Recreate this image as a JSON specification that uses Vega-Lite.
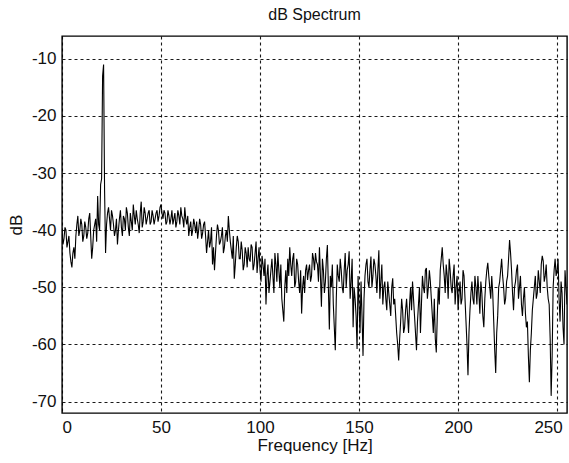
{
  "$schema": "https://vega.github.io/schema/vega-lite/v6.json",
  "width": 505,
  "height": 377,
  "autosize": {"type": "none"},
  "padding": {"left": 62, "top": 36, "right": 2, "bottom": 50},
  "background": "white",
  "title": {"text": "dB Spectrum", "font": "Liberation Sans", "fontSize": 16, "fontWeight": "normal", "color": "#111", "offset": 13},
  "config": {
    "view": {"stroke": "black", "strokeWidth": 1.4},
    "axis": {
      "labelFont": "Liberation Sans", "labelFontSize": 17, "labelColor": "#111",
      "titleFont": "Liberation Sans", "titleFontSize": 17, "titleFontWeight": "normal", "titleColor": "#111",
      "domain": false, "ticks": false,
      "grid": true, "gridColor": "black", "gridDash": [3, 3], "gridWidth": 1.1, "gridOpacity": 0.9,
      "labelExpr": "'' + datum.value"
    }
  },
  "data": {"values": [
    {"f":0,"db":-40},{"f":0.5,"db":-42.5},{"f":1,"db":-41.5},{"f":1.5,"db":-39.5},{"f":2,"db":-40},{"f":2.5,"db":-43},{"f":3,"db":-42},{"f":3.5,"db":-41},{"f":4,"db":-44},{"f":4.5,"db":-45.5},
    {"f":5,"db":-46.5},{"f":5.5,"db":-44},{"f":6,"db":-43},{"f":6.5,"db":-45},{"f":7,"db":-41},{"f":7.5,"db":-39},{"f":8,"db":-37.5},{"f":8.5,"db":-41},{"f":9,"db":-40},{"f":9.5,"db":-38},
    {"f":10,"db":-39},{"f":10.5,"db":-42},{"f":11,"db":-41},{"f":11.5,"db":-38.5},{"f":12,"db":-39.5},{"f":12.5,"db":-41.5},{"f":13,"db":-40.5},{"f":13.5,"db":-38},{"f":14,"db":-37},{"f":14.5,"db":-41},
    {"f":15,"db":-45},{"f":15.5,"db":-43},{"f":16,"db":-40},{"f":16.5,"db":-39},{"f":17,"db":-38},{"f":17.5,"db":-42},{"f":18,"db":-34},{"f":18.5,"db":-39},{"f":19,"db":-40},{"f":19.5,"db":-32},
    {"f":20,"db":-31},{"f":20.5,"db":-13},{"f":21,"db":-11},{"f":21.5,"db":-33},{"f":22,"db":-44},{"f":22.5,"db":-39},{"f":23,"db":-37},{"f":23.5,"db":-36},{"f":24,"db":-38},{"f":24.5,"db":-40},
    {"f":25,"db":-36.5},{"f":25.5,"db":-37.5},{"f":26,"db":-39},{"f":26.5,"db":-41},{"f":27,"db":-40},{"f":27.5,"db":-38},{"f":28,"db":-42.5},{"f":28.5,"db":-40},{"f":29,"db":-38},{"f":29.5,"db":-36.5},
    {"f":30,"db":-39.5},{"f":30.5,"db":-41},{"f":31,"db":-37.5},{"f":31.5,"db":-38},{"f":32,"db":-40},{"f":32.5,"db":-36},{"f":33,"db":-37},{"f":33.5,"db":-39.5},{"f":34,"db":-41},{"f":34.5,"db":-37},
    {"f":35,"db":-38.5},{"f":35.5,"db":-40},{"f":36,"db":-35.5},{"f":36.5,"db":-37.5},{"f":37,"db":-39},{"f":37.5,"db":-36.5},{"f":38,"db":-38},{"f":38.5,"db":-39},{"f":39,"db":-40.5},{"f":39.5,"db":-37},
    {"f":40,"db":-35},{"f":40.5,"db":-39.5},{"f":41,"db":-38.5},{"f":41.5,"db":-36},{"f":42,"db":-37},{"f":42.5,"db":-39},{"f":43,"db":-38},{"f":43.5,"db":-37},{"f":44,"db":-36.5},{"f":44.5,"db":-39},
    {"f":45,"db":-38.5},{"f":45.5,"db":-36.5},{"f":46,"db":-37.5},{"f":46.5,"db":-39},{"f":47,"db":-38},{"f":47.5,"db":-37},{"f":48,"db":-36.5},{"f":48.5,"db":-38.5},{"f":49,"db":-37.5},{"f":49.5,"db":-36},
    {"f":50,"db":-35.5},{"f":50.5,"db":-37},{"f":51,"db":-38},{"f":51.5,"db":-36.5},{"f":52,"db":-37},{"f":52.5,"db":-39},{"f":53,"db":-38.5},{"f":53.5,"db":-36.5},{"f":54,"db":-37.5},{"f":54.5,"db":-39},
    {"f":55,"db":-38},{"f":55.5,"db":-36.5},{"f":56,"db":-39},{"f":56.5,"db":-38},{"f":57,"db":-37},{"f":57.5,"db":-39.5},{"f":58,"db":-38.5},{"f":58.5,"db":-36.5},{"f":59,"db":-37.5},{"f":59.5,"db":-39},
    {"f":60,"db":-36},{"f":60.5,"db":-37.5},{"f":61,"db":-38},{"f":61.5,"db":-39.5},{"f":62,"db":-36},{"f":62.5,"db":-38},{"f":63,"db":-39},{"f":63.5,"db":-37.5},{"f":64,"db":-41},{"f":64.5,"db":-39.5},
    {"f":65,"db":-38.5},{"f":65.5,"db":-41},{"f":66,"db":-40},{"f":66.5,"db":-38},{"f":67,"db":-39},{"f":67.5,"db":-40.5},{"f":68,"db":-38.5},{"f":68.5,"db":-41.5},{"f":69,"db":-40},{"f":69.5,"db":-38},
    {"f":70,"db":-39},{"f":70.5,"db":-41.5},{"f":71,"db":-40.5},{"f":71.5,"db":-39},{"f":72,"db":-38.5},{"f":72.5,"db":-41},{"f":73,"db":-44},{"f":73.5,"db":-42},{"f":74,"db":-40},{"f":74.5,"db":-43},
    {"f":75,"db":-42},{"f":75.5,"db":-39.5},{"f":76,"db":-46},{"f":76.5,"db":-43},{"f":77,"db":-47},{"f":77.5,"db":-44},{"f":78,"db":-41},{"f":78.5,"db":-39},{"f":79,"db":-40},{"f":79.5,"db":-42.5},
    {"f":80,"db":-42},{"f":80.5,"db":-41},{"f":81,"db":-39.5},{"f":81.5,"db":-44},{"f":82,"db":-43},{"f":82.5,"db":-41},{"f":83,"db":-40},{"f":83.5,"db":-42},{"f":84,"db":-37.5},{"f":84.5,"db":-40},
    {"f":85,"db":-42},{"f":85.5,"db":-43.5},{"f":86,"db":-45},{"f":86.5,"db":-41},{"f":87,"db":-48.5},{"f":87.5,"db":-46},{"f":88,"db":-43},{"f":88.5,"db":-41},{"f":89,"db":-42},{"f":89.5,"db":-45},
    {"f":90,"db":-45},{"f":90.5,"db":-42},{"f":91,"db":-43.5},{"f":91.5,"db":-47},{"f":92,"db":-46},{"f":92.5,"db":-43},{"f":93,"db":-44},{"f":93.5,"db":-46.5},{"f":94,"db":-43},{"f":94.5,"db":-45},
    {"f":95,"db":-45.5},{"f":95.5,"db":-42.5},{"f":96,"db":-43},{"f":96.5,"db":-47},{"f":97,"db":-46},{"f":97.5,"db":-44},{"f":98,"db":-42},{"f":98.5,"db":-47.5},{"f":99,"db":-45},{"f":99.5,"db":-43},
    {"f":100,"db":-47},{"f":100.5,"db":-49},{"f":101,"db":-44.5},{"f":101.5,"db":-46},{"f":102,"db":-48},{"f":102.5,"db":-45},{"f":103,"db":-53},{"f":103.5,"db":-48},{"f":104,"db":-46},{"f":104.5,"db":-51},
    {"f":105,"db":-49},{"f":105.5,"db":-47},{"f":106,"db":-45},{"f":106.5,"db":-48},{"f":107,"db":-51},{"f":107.5,"db":-44},{"f":108,"db":-46},{"f":108.5,"db":-49},{"f":109,"db":-44},{"f":109.5,"db":-47},
    {"f":110,"db":-50},{"f":110.5,"db":-46},{"f":111,"db":-52},{"f":111.5,"db":-54},{"f":112,"db":-56},{"f":112.5,"db":-50},{"f":113,"db":-47},{"f":113.5,"db":-51},{"f":114,"db":-45},{"f":114.5,"db":-48},
    {"f":115,"db":-43},{"f":115.5,"db":-46},{"f":116,"db":-48},{"f":116.5,"db":-45},{"f":117,"db":-44},{"f":117.5,"db":-50},{"f":118,"db":-49},{"f":118.5,"db":-45},{"f":119,"db":-46},{"f":119.5,"db":-49},
    {"f":120,"db":-51},{"f":120.5,"db":-47},{"f":121,"db":-54.6},{"f":121.5,"db":-50},{"f":122,"db":-48},{"f":122.5,"db":-51},{"f":123,"db":-47},{"f":123.5,"db":-46},{"f":124,"db":-48.7},{"f":124.5,"db":-47},
    {"f":125,"db":-46},{"f":125.5,"db":-49},{"f":126,"db":-48},{"f":126.5,"db":-44},{"f":127,"db":-45},{"f":127.5,"db":-47},{"f":128,"db":-44},{"f":128.5,"db":-45.5},{"f":129,"db":-46},{"f":129.5,"db":-49},
    {"f":130,"db":-43},{"f":130.5,"db":-48},{"f":131,"db":-53.4},{"f":131.5,"db":-45},{"f":132,"db":-47},{"f":132.5,"db":-51},{"f":133,"db":-49},{"f":133.5,"db":-45},{"f":134,"db":-42.6},{"f":134.5,"db":-50},
    {"f":135,"db":-57.4},{"f":135.5,"db":-48},{"f":136,"db":-50},{"f":136.5,"db":-46},{"f":137,"db":-53},{"f":137.5,"db":-57},{"f":138,"db":-61},{"f":138.5,"db":-52},{"f":139,"db":-46},{"f":139.5,"db":-48},
    {"f":140,"db":-49},{"f":140.5,"db":-45},{"f":141,"db":-47},{"f":141.5,"db":-50},{"f":142,"db":-51},{"f":142.5,"db":-47},{"f":143,"db":-44},{"f":143.5,"db":-50},{"f":144,"db":-47},{"f":144.5,"db":-46},
    {"f":145,"db":-43.7},{"f":145.5,"db":-52},{"f":146,"db":-49},{"f":146.5,"db":-45},{"f":147,"db":-57},{"f":147.5,"db":-50},{"f":148,"db":-52},{"f":148.5,"db":-55},{"f":149,"db":-60.8},{"f":149.5,"db":-48},
    {"f":150,"db":-53},{"f":150.5,"db":-58},{"f":151,"db":-49},{"f":151.5,"db":-55},{"f":152,"db":-62},{"f":152.5,"db":-52},{"f":153,"db":-48},{"f":153.5,"db":-46},{"f":154,"db":-45},{"f":154.5,"db":-49},
    {"f":155,"db":-50},{"f":155.5,"db":-47},{"f":156,"db":-44.6},{"f":156.5,"db":-50},{"f":157,"db":-48},{"f":157.5,"db":-45},{"f":158,"db":-46},{"f":158.5,"db":-48},{"f":159,"db":-51},{"f":159.5,"db":-47},
    {"f":160,"db":-43.5},{"f":160.5,"db":-52},{"f":161,"db":-49},{"f":161.5,"db":-46},{"f":162,"db":-53},{"f":162.5,"db":-50},{"f":163,"db":-49},{"f":163.5,"db":-52},{"f":164,"db":-54},{"f":164.5,"db":-49},
    {"f":165,"db":-51},{"f":165.5,"db":-53},{"f":166,"db":-55},{"f":166.5,"db":-50},{"f":167,"db":-48.4},{"f":167.5,"db":-53},{"f":168,"db":-52},{"f":168.5,"db":-55},{"f":169,"db":-58},{"f":169.5,"db":-60},
    {"f":170,"db":-62.8},{"f":170.5,"db":-59},{"f":171,"db":-56},{"f":171.5,"db":-52},{"f":172,"db":-54},{"f":172.5,"db":-58},{"f":173,"db":-57},{"f":173.5,"db":-54},{"f":174,"db":-52},{"f":174.5,"db":-55},
    {"f":175,"db":-58},{"f":175.5,"db":-53},{"f":176,"db":-50},{"f":176.5,"db":-54},{"f":177,"db":-49},{"f":177.5,"db":-52},{"f":178,"db":-55},{"f":178.5,"db":-58},{"f":179,"db":-61},{"f":179.5,"db":-56},
    {"f":180,"db":-53},{"f":180.5,"db":-50},{"f":181,"db":-58},{"f":181.5,"db":-53},{"f":182,"db":-48},{"f":182.5,"db":-50},{"f":183,"db":-51},{"f":183.5,"db":-47},{"f":184,"db":-46.6},{"f":184.5,"db":-52},
    {"f":185,"db":-50},{"f":185.5,"db":-47},{"f":186,"db":-49},{"f":186.5,"db":-52},{"f":187,"db":-55},{"f":187.5,"db":-58},{"f":188,"db":-52},{"f":188.5,"db":-59},{"f":189,"db":-61.4},{"f":189.5,"db":-55},
    {"f":190,"db":-50},{"f":190.5,"db":-53},{"f":191,"db":-47},{"f":191.5,"db":-45},{"f":192,"db":-43},{"f":192.5,"db":-46},{"f":193,"db":-48},{"f":193.5,"db":-51},{"f":194,"db":-46},{"f":194.5,"db":-48},
    {"f":195,"db":-52},{"f":195.5,"db":-45},{"f":196,"db":-47},{"f":196.5,"db":-50},{"f":197,"db":-51},{"f":197.5,"db":-48},{"f":198,"db":-46},{"f":198.5,"db":-53},{"f":199,"db":-50},{"f":199.5,"db":-48},
    {"f":200,"db":-54},{"f":200.5,"db":-51},{"f":201,"db":-49},{"f":201.5,"db":-53},{"f":202,"db":-52},{"f":202.5,"db":-47},{"f":203,"db":-48},{"f":203.5,"db":-52},{"f":204,"db":-56},{"f":204.5,"db":-60},
    {"f":205,"db":-65.4},{"f":205.5,"db":-58},{"f":206,"db":-54},{"f":206.5,"db":-51},{"f":207,"db":-49},{"f":207.5,"db":-52},{"f":208,"db":-53},{"f":208.5,"db":-48},{"f":209,"db":-50},{"f":209.5,"db":-53},
    {"f":210,"db":-48},{"f":210.5,"db":-51},{"f":211,"db":-54.6},{"f":211.5,"db":-49},{"f":212,"db":-51},{"f":212.5,"db":-55},{"f":213,"db":-57},{"f":213.5,"db":-52},{"f":214,"db":-49},{"f":214.5,"db":-47},
    {"f":215,"db":-45.7},{"f":215.5,"db":-48},{"f":216,"db":-50},{"f":216.5,"db":-52},{"f":217,"db":-48},{"f":217.5,"db":-51},{"f":218,"db":-56},{"f":218.5,"db":-61},{"f":219,"db":-65},{"f":219.5,"db":-58},
    {"f":220,"db":-55},{"f":220.5,"db":-50},{"f":221,"db":-49},{"f":221.5,"db":-47},{"f":222,"db":-45},{"f":222.5,"db":-48},{"f":223,"db":-50},{"f":223.5,"db":-53},{"f":224,"db":-52},{"f":224.5,"db":-49},
    {"f":225,"db":-48},{"f":225.5,"db":-45},{"f":226,"db":-41.7},{"f":226.5,"db":-44},{"f":227,"db":-47},{"f":227.5,"db":-51},{"f":228,"db":-54},{"f":228.5,"db":-50},{"f":229,"db":-49},{"f":229.5,"db":-47},
    {"f":230,"db":-46},{"f":230.5,"db":-52},{"f":231,"db":-50},{"f":231.5,"db":-48},{"f":232,"db":-53},{"f":232.5,"db":-55},{"f":233,"db":-52},{"f":233.5,"db":-50},{"f":234,"db":-54.5},{"f":234.5,"db":-57},
    {"f":235,"db":-56},{"f":235.5,"db":-62},{"f":236,"db":-66.6},{"f":236.5,"db":-61},{"f":237,"db":-58},{"f":237.5,"db":-54},{"f":238,"db":-52},{"f":238.5,"db":-50},{"f":239,"db":-48},{"f":239.5,"db":-52},
    {"f":240,"db":-51},{"f":240.5,"db":-47},{"f":241,"db":-49},{"f":241.5,"db":-51},{"f":242,"db":-46},{"f":242.5,"db":-44.5},{"f":243,"db":-45.4},{"f":243.5,"db":-49},{"f":244,"db":-48},{"f":244.5,"db":-46},
    {"f":245,"db":-50},{"f":245.5,"db":-52},{"f":246,"db":-53},{"f":246.5,"db":-59},{"f":247,"db":-69},{"f":247.5,"db":-62},{"f":248,"db":-50},{"f":248.5,"db":-47},{"f":249,"db":-45},{"f":249.5,"db":-48},
    {"f":250,"db":-47},{"f":250.5,"db":-45},{"f":251,"db":-52},{"f":251.5,"db":-56},{"f":252,"db":-49},{"f":252.5,"db":-51},{"f":253,"db":-57},{"f":253.5,"db":-60},{"f":254,"db":-47},{"f":254.5,"db":-50},
    {"f":255,"db":-53}
  ]},
  "mark": {"type": "line", "color": "black", "strokeWidth": 1.1, "clip": true},
  "encoding": {
    "x": {"field": "f", "type": "quantitative", "scale": {"domain": [0, 255], "nice": false, "zero": false},
      "axis": {"title": "Frequency [Hz]", "values": [0, 50, 100, 150, 200, 250], "labelPadding": 6, "titlePadding": 2,
        "labelOffset": {"condition": {"test": "datum.value == 250", "value": -9}, "value": 0}}},
    "y": {"field": "db", "type": "quantitative", "scale": {"domain": [-72, -6], "nice": false, "zero": false},
      "axis": {"title": "dB", "values": [-70, -60, -50, -40, -30, -20, -10], "labelPadding": 6, "titlePadding": 6}}
  }
}
